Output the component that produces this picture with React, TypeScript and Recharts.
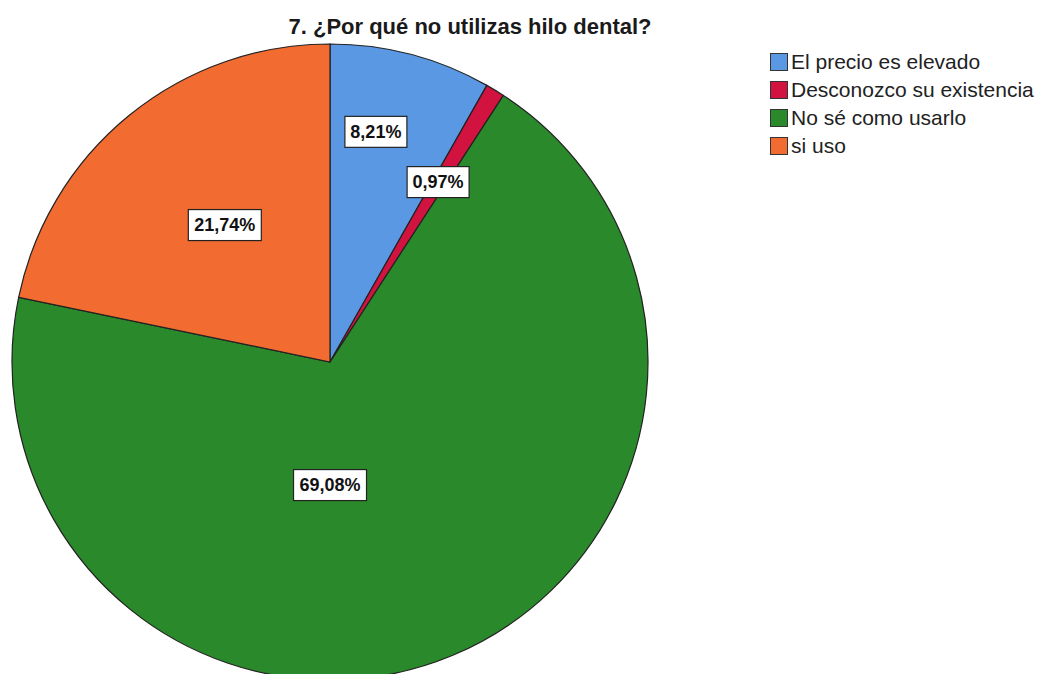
import React from "react";
import { PieChart, Pie, Cell, Legend } from "recharts";

const categories = ["El precio es elevado", "Desconozco su existencia", "No sé como usarlo", "si uso"];
const values = [8.21, 0.97, 69.08, 21.74];
const labels = ["8,21%", "0,97%", "69,08%", "21,74%"];
const colors = ["#5A98E4", "#D2123F", "#2A8A2B", "#F26B30"];
const labelRadiusFrac = [0.738, 0.66, 0.387, 0.543];
const labelAngleShift = [3.5, 0.3, -22.6, -1.6];

const data = categories.map((name, i) => ({ name, value: values[i], label: labels[i], color: colors[i] }));

const RAD = Math.PI / 180;

const renderLabel = (props: any) => {
  const { cx, cy, midAngle, outerRadius, index } = props;
  const r = outerRadius * labelRadiusFrac[index];
  const a = midAngle + labelAngleShift[index];
  const x = cx + r * Math.cos(-a * RAD);
  const y = cy + r * Math.sin(-a * RAD);
  const text = labels[index];
  const w = text.length * 11 + 7;
  const h = 31;
  return (
    <g key={"lbl" + index}>
      <rect x={x - w / 2} y={y - h / 2} width={w} height={h} fill="#ffffff" stroke="#222" strokeWidth={1.2} />
      <text x={x} y={y} textAnchor="middle" dominantBaseline="central" fontFamily="Arial, 'Liberation Sans', sans-serif" fontWeight="bold" fontSize={18} fill="#111">
        {text}
      </text>
    </g>
  );
};

const LegendContent = () => (
  <div style={{ fontFamily: "Arial, 'Liberation Sans', sans-serif", fontSize: 21, color: "#222" }}>
    {data.map((d) => (
      <div key={d.name} style={{ display: "flex", alignItems: "center", height: 28, whiteSpace: "nowrap" }}>
        <div style={{ width: 18, height: 18, background: d.color, border: "1px solid #333", marginRight: 3, boxSizing: "border-box" }} />
        <span>{d.name}</span>
      </div>
    ))}
  </div>
);

export default function App() {
  return (
    <div style={{ position: "absolute", left: 0, top: 0, width: 1045, height: 674, background: "#fff", overflow: "hidden" }}>
      <div style={{ position: "absolute", left: 0, width: 940, top: 14, textAlign: "center", fontFamily: "Arial, 'Liberation Sans', sans-serif", fontWeight: "bold", fontSize: 22, color: "#1a1a1a", lineHeight: "26px" }}>
        7. ¿Por qué no utilizas hilo dental?
      </div>
      <PieChart width={1045} height={674} margin={{ top: 0, right: 0, bottom: 0, left: 0 }}>
        <Pie
          data={data}
          dataKey="value"
          nameKey="name"
          cx={330}
          cy={362}
          outerRadius={318}
          startAngle={90}
          endAngle={-270}
          stroke="#222"
          strokeWidth={1.2}
          label={renderLabel}
          labelLine={false}
          isAnimationActive={false}
        >
          {data.map((d) => (
            <Cell key={d.name} fill={d.color} />
          ))}
        </Pie>
        <Legend
          layout="vertical"
          verticalAlign="top"
          align="right"
          content={<LegendContent />}
          wrapperStyle={{ left: 770, top: 48, width: 275 }}
        />
      </PieChart>
    </div>
  );
}
